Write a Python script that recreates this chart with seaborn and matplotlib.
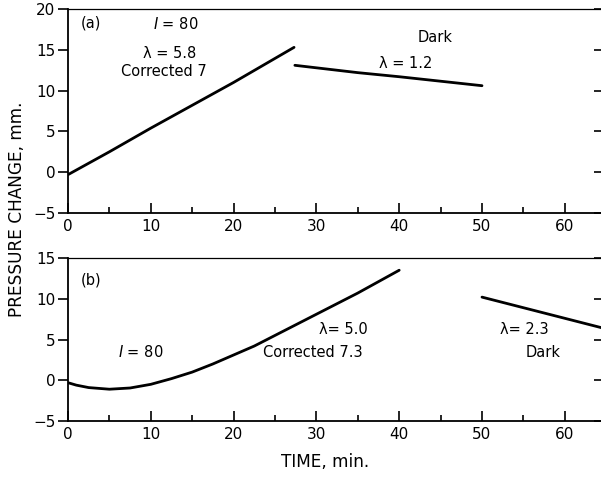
import numpy as np
import pandas as pd
import seaborn as sns
import matplotlib.pyplot as plt
from matplotlib.ticker import MultipleLocator

# Panel (a): light period and dark period
a_light_time = [0, 5, 10, 15, 20, 27.3]
a_light_pressure = [-0.3, 2.5, 5.4, 8.2, 11.0, 15.3]
a_dark_time = [27.4, 35, 40, 50]
a_dark_pressure = [13.1, 12.2, 11.7, 10.6]

# Panel (b): light period (curved) and dark period
b_light_time = [0, 1, 2.5, 5, 7.5, 10, 12.5, 15, 17.5, 20, 22.5, 25, 27.5, 30, 32.5, 35, 37.5, 40]
b_light_pressure = [-0.3, -0.6, -0.9, -1.1, -0.95, -0.5, 0.2, 1.0, 2.0, 3.1, 4.2, 5.5, 6.8,
                    8.1, 9.4, 10.7, 12.1, 13.5]
b_dark_time = [50, 55, 60, 65]
b_dark_pressure = [10.2, 8.9, 7.6, 6.3]

sns.set_style("ticks")
plt.rcParams["font.family"] = ["DejaVu Sans"]
plt.rcParams.update({"text.color": "black", "axes.labelcolor": "black",
                     "xtick.color": "black", "ytick.color": "black",
                     "axes.edgecolor": "black"})

fig = plt.figure(figsize=(6.01, 4.78), dpi=100)
W, H = 601, 478
px_per_min = 8.28


def make_axes(left, top, bottom, xmax_px):
    return fig.add_axes([left / W, 1 - bottom / H, (xmax_px - left) / W, (bottom - top) / H])


ax_a = make_axes(68, 9, 213, 604)
ax_b = make_axes(68, 258, 421, 604)

for ax, segs, ylim in [
    (ax_a, [(a_light_time, a_light_pressure), (a_dark_time, a_dark_pressure)], (-5, 20)),
    (ax_b, [(b_light_time, b_light_pressure), (b_dark_time, b_dark_pressure)], (-5, 15)),
]:
    for t, p in segs:
        sns.lineplot(x=t, y=p, ax=ax, color="black", linewidth=2.0, sort=False)
    ax.set_xlim(0, (604 - 68) / px_per_min)
    ax.set_ylim(*ylim)
    ax.xaxis.set_major_locator(MultipleLocator(10))
    ax.xaxis.set_minor_locator(MultipleLocator(5))
    ax.yaxis.set_major_locator(MultipleLocator(5))
    ax.tick_params(axis="x", which="major", direction="in", length=7, width=1.2,
                   labelsize=11, pad=4, top=False)
    ax.tick_params(axis="x", which="minor", direction="in", length=4, width=1.2, top=False)
    ax.tick_params(axis="y", which="major", direction="out", length=7, width=1.2,
                   labelsize=11, pad=2, right=True)
    for s in ["left", "bottom"]:
        ax.spines[s].set_linewidth(1.3)
    ax.spines["top"].set_linewidth(0.9)
    ax.spines["right"].set_visible(False)
    ax.set_xlabel("")
    ax.set_ylabel("")

# right-side inward ticks
for ax in (ax_a, ax_b):
    ax.yaxis.set_ticks_position("both")
    for tick in ax.yaxis.get_major_ticks():
        tick.tick2line.set_marker(0)
        tick.tick2line.set_markersize(7)
        tick.tick2line.set_markeredgewidth(1.2)

fs = 10.5
ax_a.text(1.5, 18.3, "(a)", fontsize=fs, ha="left", va="center")
ax_a.text(13, 18.2, r"$\mathit{I}$ = 80", fontsize=fs, ha="center", va="center")
ax_a.text(12.3, 14.6, "λ = 5.8", fontsize=fs, ha="center", va="center")
ax_a.text(11.6, 12.3, "Corrected 7", fontsize=fs, ha="center", va="center")
ax_a.text(44.3, 16.5, "Dark", fontsize=fs, ha="center", va="center")
ax_a.text(40.8, 13.3, "λ = 1.2", fontsize=fs, ha="center", va="center")

ax_b.text(1.5, 12.3, "(b)", fontsize=fs, ha="left", va="center")
ax_b.text(8.8, 3.5, r"$\mathit{I}$ = 80", fontsize=fs, ha="center", va="center")
ax_b.text(33.3, 6.2, "λ= 5.0", fontsize=fs, ha="center", va="center")
ax_b.text(29.6, 3.4, "Corrected 7.3", fontsize=fs, ha="center", va="center")
ax_b.text(55.1, 6.2, "λ= 2.3", fontsize=fs, ha="center", va="center")
ax_b.text(57.4, 3.4, "Dark", fontsize=fs, ha="center", va="center")

fig.text(17 / W, 1 - 209 / H, "PRESSURE CHANGE, mm.", rotation=90, fontsize=12.2,
         ha="center", va="center")
fig.text(325 / W, 1 - 462 / H, "TIME, min.", fontsize=12.2, ha="center", va="center")

fig.savefig("out.png", dpi=100)
